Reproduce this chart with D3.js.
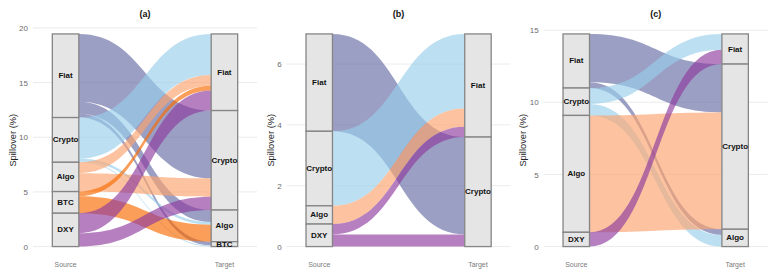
<!DOCTYPE html>
<html><head><meta charset="utf-8">
<script src="https://cdn.jsdelivr.net/npm/d3@7"></script>
<style>
body{margin:0;background:#fff}
svg{display:block}
text{font-family:"Liberation Sans",Arial,Helvetica,sans-serif}
</style>
</head><body>
<svg id="chart" width="777" height="278"></svg>
<script>
// ---------- data ----------
const strata = ["Fiat", "Crypto", "Algo", "BTC", "DXY"];
const axisNames = ["Source", "Target"];
const panelTitles = ["(a)", "(b)", "(c)"];
const yTitle = "Spillover (%)";

// [source, target, spillover %]
const flowsA = [
  ["Fiat", "Crypto", 6.2],
  ["Fiat", "Algo", 1.1],
  ["Fiat", "BTC", 0.35],
  ["Crypto", "Fiat", 3.75],
  ["Crypto", "Algo", 0.24],
  ["Crypto", "BTC", 0.1],
  ["Algo", "Fiat", 1.0],
  ["Algo", "Crypto", 1.68],
  ["BTC", "Fiat", 0.43],
  ["BTC", "Algo", 1.55],
  ["DXY", "Fiat", 1.83],
  ["DXY", "Crypto", 1.22]
];
const flowsB = [
  ["Fiat", "Crypto", 3.2],
  ["Crypto", "Fiat", 2.45],
  ["Algo", "Fiat", 0.6],
  ["DXY", "Fiat", 0.34],
  ["DXY", "Crypto", 0.4]
];
const flowsC = [
  ["Fiat", "Crypto", 3.35],
  ["Fiat", "Algo", 0.4],
  ["Crypto", "Fiat", 1.1],
  ["Crypto", "Algo", 0.8],
  ["Algo", "Crypto", 8.1],
  ["DXY", "Fiat", 0.99]
];
const ticksA = [0, 5, 10, 15, 20];
const ticksB = [0, 2, 4, 6];
const ticksC = [0, 5, 10, 15];

// ---------- styles / layout ----------
const palette = {Fiat: "#676ba4", Crypto: "#98ceeb", Algo: "#fca36d", BTC: "#f96a00", DXY: "#8d3a9e"};
const flowOpacity = 0.65;
const panels = [
  {flows: flowsA, ticks: ticksA, left: 33, right: 257},
  {flows: flowsB, ticks: ticksB, left: 286.7, right: 510.5},
  {flows: flowsC, ticks: ticksC, left: 543.7, right: 767.7}
];
const plotTop = 23.3, plotBottom = 257.2;
const stratWidth = 1 / 6;

const svg = d3.select("#chart");

panels.forEach((p, pi) => {
  const g = svg.append("g");
  const flows = p.flows.map(d => ({source: d[0], target: d[1], value: d[2]}));
  const total = d3.sum(flows, d => d.value);

  const x = d3.scaleLinear().domain([0.795, 2.205]).range([p.left, p.right]);
  const y = d3.scaleLinear().domain([-0.05 * total, 1.05 * total]).range([plotBottom, plotTop]);

  // grid
  g.append("g").selectAll("line").data(p.ticks).join("line")
    .attr("x1", p.left).attr("x2", p.right)
    .attr("y1", d => y(d)).attr("y2", d => y(d))
    .attr("stroke", "#ebebeb").attr("stroke-width", 1);

  // y axis via d3.axisLeft
  const ax = g.append("g").attr("transform", `translate(${p.left - 5},0)`)
    .call(d3.axisLeft(y).tickValues(p.ticks).tickSize(0).tickPadding(0));
  ax.select(".domain").remove();
  ax.selectAll("text").attr("fill", "#6b6b6b").style("font-size", "8px")
    .style("font-family", '"Liberation Sans",Arial,sans-serif');
  let maxW = 0;
  ax.selectAll("text").each(function(){ maxW = Math.max(maxW, this.getComputedTextLength()); });

  // y title
  const tx = p.left - 5 - maxW - 6.5;
  const cy = (plotTop + plotBottom) / 2;
  g.append("text").attr("transform", `translate(${tx},${cy}) rotate(-90)`)
    .attr("text-anchor", "middle").attr("dominant-baseline", "central")
    .attr("fill", "#222").style("font-size", "9.3px").text(yTitle);

  // title
  g.append("text").attr("x", (p.left + p.right) / 2).attr("y", 14)
    .attr("text-anchor", "middle").attr("dominant-baseline", "central")
    .attr("font-weight", "bold").attr("fill", "#111").style("font-size", "9px")
    .text(panelTitles[pi]);

  // x labels
  g.append("g").selectAll("text").data(axisNames).join("text")
    .attr("x", (d, i) => x(i + 1)).attr("y", 264)
    .attr("text-anchor", "middle").attr("dominant-baseline", "central")
    .attr("fill", "#7a7a7a").style("font-size", "7px").text(d => d);

  // strata layout
  const order = s => strata.indexOf(s);
  function stack(key) {
    const segs = [];
    let cum = total;
    strata.forEach(s => {
      const v = d3.sum(flows.filter(f => f[key] === s), f => f.value);
      if (v > 0) { segs.push({name: s, top: cum, bottom: cum - v}); cum -= v; }
    });
    return segs;
  }
  const srcSegs = stack("source");
  const tgtSegs = stack("target");

  // flow positions at source (ordered by target) and target (ordered by source)
  srcSegs.forEach(seg => {
    let cum = seg.top;
    flows.filter(f => f.source === seg.name)
      .sort((a, b) => order(a.target) - order(b.target))
      .forEach(f => { f.s0 = cum; f.s1 = cum - f.value; cum -= f.value; });
  });
  tgtSegs.forEach(seg => {
    let cum = seg.top;
    flows.filter(f => f.target === seg.name)
      .sort((a, b) => order(a.source) - order(b.source))
      .forEach(f => { f.t0 = cum; f.t1 = cum - f.value; cum -= f.value; });
  });

  const x0 = x(1 + stratWidth / 2), x1 = x(2 - stratWidth / 2), xm = (x0 + x1) / 2;
  const flowPath = f => {
    const a = y(f.s0), b = y(f.s1), c = y(f.t0), d = y(f.t1);
    return `M${x0},${a}C${xm},${a} ${xm},${c} ${x1},${c}L${x1},${d}C${xm},${d} ${xm},${b} ${x0},${b}Z`;
  };
  const ordered = flows.slice().sort((a, b) => order(a.source) - order(b.source) || order(a.target) - order(b.target));
  g.append("g").selectAll("path").data(ordered).join("path")
    .attr("d", flowPath)
    .attr("fill", f => palette[f.source]).attr("fill-opacity", flowOpacity);

  // strata
  const drawStrata = (segs, pos) => {
    const sg = g.append("g");
    sg.selectAll("rect").data(segs).join("rect")
      .attr("x", x(pos - stratWidth / 2)).attr("width", x(pos + stratWidth / 2) - x(pos - stratWidth / 2))
      .attr("y", d => y(d.top)).attr("height", d => y(d.bottom) - y(d.top))
      .attr("fill", "#e5e5e5").attr("stroke", "#858585").attr("stroke-width", 1.3);
    sg.selectAll("text").data(segs).join("text")
      .attr("x", x(pos)).attr("y", d => y((d.top + d.bottom) / 2))
      .attr("text-anchor", "middle").attr("dominant-baseline", "central")
      .attr("font-weight", "bold").attr("fill", "#111").style("font-size", "8px")
      .text(d => d.name);
  };
  drawStrata(srcSegs, 1);
  drawStrata(tgtSegs, 2);
});
</script>
</body></html>
